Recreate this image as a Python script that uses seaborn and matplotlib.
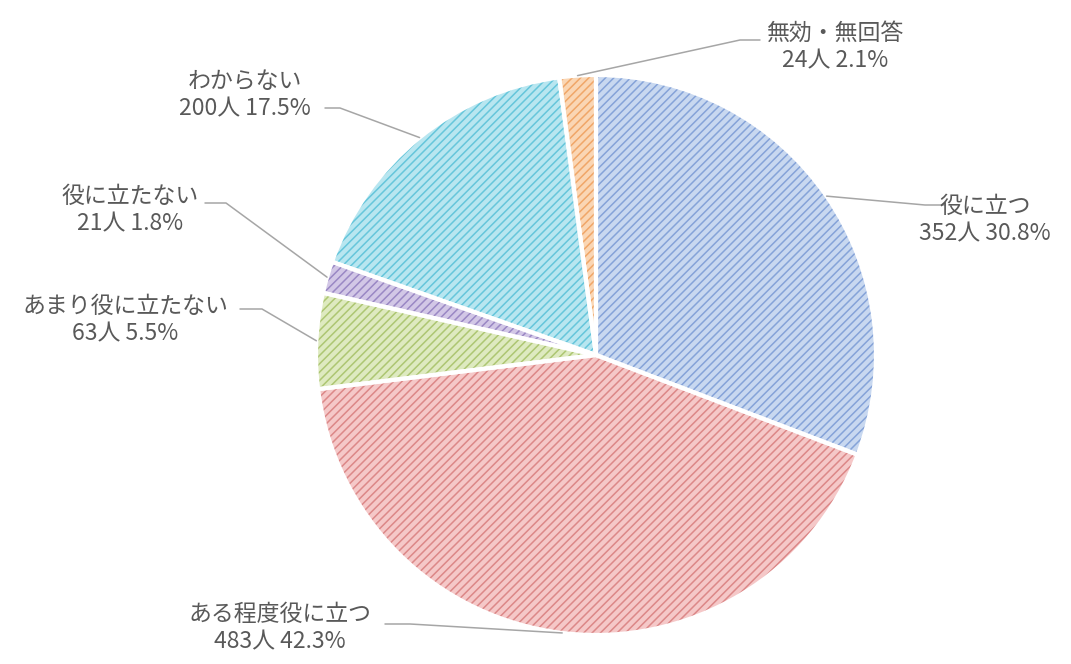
import numpy as np
import matplotlib
matplotlib.use("Agg")
import matplotlib.pyplot as plt
import seaborn as sns

# ---- data ----
categories = ["役に立つ", "ある程度役に立つ", "あまり役に立たない", "役に立たない", "わからない", "無効・無回答"]
counts = [352, 483, 63, 21, 200, 24]
percents = ["30.8%", "42.3%", "5.5%", "1.8%", "17.5%", "2.1%"]

face_colors = ["#c8d8f0", "#f5c8c8", "#deeac0", "#d2c7e6", "#b8e6f0", "#fad6b4"]
hatch_colors = ["#85a3d8", "#dc8888", "#adc672", "#9a88c4", "#66c6db", "#f0a668"]

# label layout (pixel coords of text center, and leader-line anchor)
label_pos = [(985, 220), (280, 628), (125, 320), (130, 210), (245, 95), (835, 47)]
line_anchor = [(945, 205), (385, 624), (240, 309), (205, 203), (325, 108), (760, 40)]
line_knee = [(925, 205), (410, 624), (262, 309), (226, 203), (340, 108), (740, 40)]

W, H = 1071, 664
CX, CY, R = 596, 355, 280

sns.set_theme(style="white")
plt.rcParams["font.family"] = ["Noto Sans CJK JP", "DejaVu Sans"]
plt.rcParams["hatch.linewidth"] = 1.1

fig = plt.figure(figsize=(W / 100, H / 100), dpi=100)
ax = fig.add_axes([0, 0, 1, 1])

def py(y):
    return H - y

wedges, _ = ax.pie(counts, colors=face_colors, startangle=90, counterclock=False,
                   center=(CX, py(CY)), radius=R, frame=True,
                   wedgeprops=dict(linewidth=0))
for w, hc in zip(wedges, hatch_colors):
    w.set_hatch("////")
    w.set_edgecolor(hc)
    w.set_linewidth(0)

# white separators on top
ax.pie(counts, colors=["none"] * len(counts), startangle=90, counterclock=False,
       center=(CX, py(CY)), radius=R, frame=True,
       wedgeprops=dict(linewidth=3, edgecolor="white", fill=False))

text_color = "#595959"
for i, w in enumerate(wedges):
    mid = np.deg2rad((w.theta1 + w.theta2) / 2)
    ex = CX + R * np.cos(mid)
    ey = py(CY) + R * np.sin(mid)
    ax_, ay_ = line_anchor[i]
    kx, ky = line_knee[i]
    ax.plot([ax_, kx, ex], [py(ay_), py(ky), ey], color="#a6a6a6", lw=1.1, zorder=5)
    tx, ty = label_pos[i]
    ax.text(tx, py(ty), f"{categories[i]}\n{counts[i]}人 {percents[i]}",
            ha="center", va="center", fontsize=16.5, color=text_color,
            linespacing=1.25, zorder=6)

ax.set_xlim(0, W)
ax.set_ylim(0, H)
ax.set_aspect("equal")
ax.axis("off")

fig.savefig("out.png", dpi=100)
